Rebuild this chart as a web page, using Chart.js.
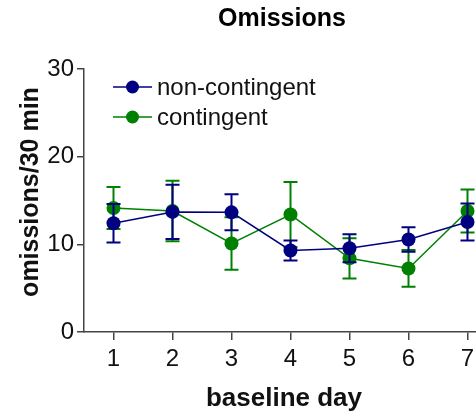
<!DOCTYPE html>
<html>
<head>
<meta charset="utf-8">
<script src="https://cdn.jsdelivr.net/npm/chart.js@4/dist/chart.umd.min.js"></script>
<style>
  html, body { margin: 0; background: #fff; overflow: hidden; }
  #wrap { width: 504px; height: 414px; position: relative; }
</style>
</head>
<body>
<div id="wrap"><canvas id="omissionsChart"></canvas></div>
<script>
      // baseline days and group means / SEM
      const days = [1, 2, 3, 4, 5, 6, 7];
      const yTicks = [0, 10, 20, 30];
      const nonContingent = [12.4, 13.7, 13.65, 9.3, 9.55, 10.55, 12.55];
      const nonContingentErr = [2.2, 3.1, 2.05, 1.15, 1.6, 1.4, 2.1];
      const contingent = [14.15, 13.8, 10.1, 13.4, 8.4, 7.25, 13.8];
      const contingentErr = [2.4, 3.45, 3.0, 3.7, 2.3, 2.1, 2.45];

      const FONT = "'Liberation Sans', Arial, sans-serif";
      const BLUE = "rgb(0, 0, 128)";
      const GREEN = "rgb(0, 128, 0)";
      const AXIS = "#444444";

      const toPoints = (vals) => days.map((d, i) => ({ x: d, y: vals[i] }));

      // error bars drawn per dataset so stacking order follows the datasets
      const errorBars = {
        id: "errorBars",
        afterDatasetDraw(chart, args) {
          const ds = chart.data.datasets[args.index];
          const { ctx, scales } = chart;
          ctx.save();
          ctx.strokeStyle = ds.borderColor;
          ctx.lineWidth = 2;
          days.forEach((d, i) => {
            const x = scales.x.getPixelForValue(d);
            const yTop = scales.y.getPixelForValue(ds.data[i].y + ds.errors[i]);
            const yBot = scales.y.getPixelForValue(ds.data[i].y - ds.errors[i]);
            ctx.beginPath();
            ctx.moveTo(x, yTop);
            ctx.lineTo(x, yBot);
            ctx.moveTo(x - 7, yTop);
            ctx.lineTo(x + 7, yTop);
            ctx.moveTo(x - 7, yBot);
            ctx.lineTo(x + 7, yBot);
            ctx.stroke();
          });
          ctx.restore();
        },
      };

      // title, axis titles and in-plot legend
      const extras = {
        id: "extras",
        afterDraw(chart) {
          const { ctx } = chart;
          ctx.save();
          ctx.fillStyle = "#000";
          ctx.font = "bold 25px " + FONT;
          ctx.textAlign = "center";
          ctx.textBaseline = "middle";
          ctx.fillText("Omissions", 282, 19);

          ctx.fillStyle = "#111";
          ctx.font = "bold 26px " + FONT;
          ctx.fillText("baseline day", 284, 399);

          ctx.save();
          ctx.translate(31, 192);
          ctx.rotate(-Math.PI / 2);
          ctx.font = "bold 25px " + FONT;
          ctx.fillText("omissions/30 min", 0, 0);
          ctx.restore();

          chart.data.datasets.forEach((ds, i) => {
            const y = 87 + i * 30;
            ctx.strokeStyle = ds.borderColor;
            ctx.lineWidth = 1.5;
            ctx.beginPath();
            ctx.moveTo(113, y);
            ctx.lineTo(152, y);
            ctx.stroke();
            ctx.fillStyle = ds.backgroundColor;
            ctx.beginPath();
            ctx.arc(132.5, y, 6.5, 0, Math.PI * 2);
            ctx.fill();
            ctx.fillStyle = "#111";
            ctx.font = "24px " + FONT;
            ctx.textAlign = "left";
            ctx.fillText(ds.label, 157, y + 1);
          });
          ctx.restore();
        },
      };

      const ctx = document.getElementById("omissionsChart").getContext("2d");
      const omissionsChart = new Chart(ctx, {
        type: "line",
        data: {
          datasets: [
            {
              label: "non-contingent",
              data: toPoints(nonContingent),
              errors: nonContingentErr,
              borderColor: BLUE,
              backgroundColor: BLUE,
              borderWidth: 1.5,
              pointRadius: 7,
              pointBorderWidth: 0,
              tension: 0,
              clip: false,
            },
            {
              label: "contingent",
              data: toPoints(contingent),
              errors: contingentErr,
              borderColor: GREEN,
              backgroundColor: GREEN,
              borderWidth: 1.5,
              pointRadius: 7,
              pointBorderWidth: 0,
              tension: 0,
              clip: false,
            },
          ],
        },
        options: {
          responsive: true,
          maintainAspectRatio: false,
          animation: false,
          layout: { padding: { top: 69, left: 0, right: 0, bottom: 0 } },
          plugins: {
            legend: { display: false },
            tooltip: { enabled: false },
            title: { display: false },
          },
          scales: {
            x: {
              type: "linear",
              min: 0.5,
              max: 7.5,
              afterBuildTicks: (scale) => {
                scale.ticks = days.map((v) => ({ value: v }));
              },
              afterFit: (scale) => {
                scale.height = 82;
              },
              grid: {
                drawOnChartArea: false,
                tickLength: 8,
                color: AXIS,
                lineWidth: 1.5,
              },
              border: { color: AXIS, width: 1.5 },
              ticks: {
                color: "#111",
                padding: 5,
                font: { family: FONT, size: 24 },
              },
            },
            y: {
              min: 0,
              max: 30,
              afterBuildTicks: (scale) => {
                scale.ticks = yTicks.map((v) => ({ value: v }));
              },
              afterFit: (scale) => {
                scale.width = 84;
              },
              grid: {
                drawOnChartArea: false,
                tickLength: 7,
                color: AXIS,
                lineWidth: 1.5,
              },
              border: { color: AXIS, width: 1.5 },
              ticks: {
                color: "#111",
                padding: 3,
                font: { family: FONT, size: 24 },
              },
            },
          },
        },
        plugins: [errorBars, extras],
      });
</script>
</body>
</html>
